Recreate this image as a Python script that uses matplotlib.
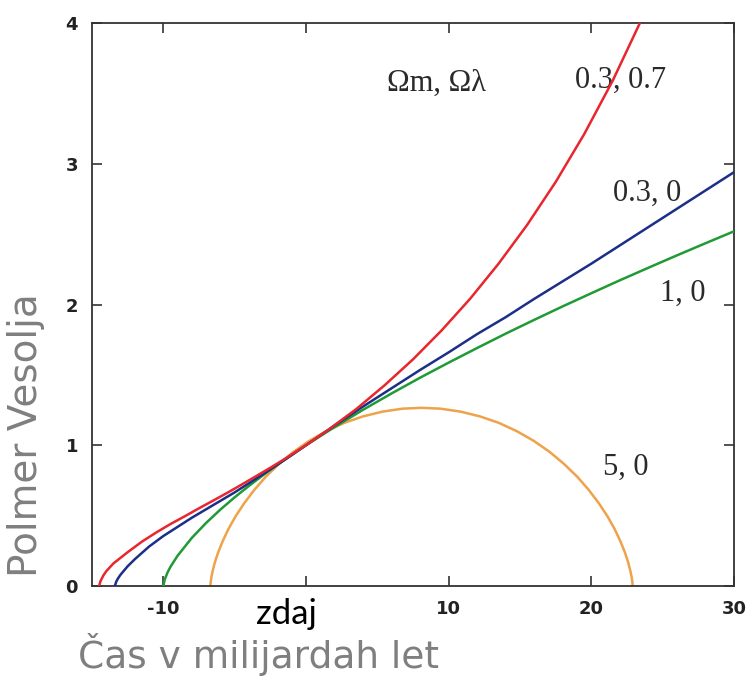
import matplotlib
matplotlib.use('Agg')
import matplotlib.pyplot as plt
from matplotlib.patches import Rectangle

# scale factor of the universe vs. time (Gyr)
red_x = [-14.5, -14.4, -14.2, -14.0, -13.5, -12.5, -11.5, -10.5, -9.5, -8.5, -7.5, -6.5,
         -5.5, -4.5, -3.5, -2.5, -1.5, 0.0, 1.5, 3.5, 5.5, 7.5, 9.5, 11.5, 13.5, 15.5,
         17.5, 19.5, 21.5, 23.5, 24.0]
red_y = [0.0, 0.035, 0.075, 0.105, 0.16, 0.24, 0.315, 0.38, 0.44, 0.495, 0.552, 0.607,
         0.663, 0.721, 0.780, 0.840, 0.902, 1.0, 1.105, 1.255, 1.425, 1.61, 1.815, 2.04,
         2.29, 2.565, 2.87, 3.21, 3.59, 4.02, 4.13]

blue_x = [-13.4, -13.3, -13.2, -13.0, -12.5, -12.0, -11.0, -10.0, -9.0, -8.0, -7.0, -6.0,
          -5.0, -4.0, -3.0, -2.0, -1.0, 0.0, 1.0, 2.0, 4.0, 6.0, 8.0, 10.0, 12.0, 14.0,
          16.0, 18.0, 20.0, 22.0, 24.0, 26.0, 28.0, 30.0]
blue_y = [0.0, 0.03, 0.05, 0.08, 0.14, 0.19, 0.28, 0.355, 0.42, 0.485, 0.545, 0.605,
          0.665, 0.73, 0.795, 0.862, 0.93, 1.0, 1.07, 1.14, 1.275, 1.405, 1.535, 1.66,
          1.79, 1.91, 2.04, 2.165, 2.29, 2.42, 2.55, 2.68, 2.81, 2.94]

green_x = [-10.0, -9.9, -9.7, -9.5, -9.0, -8.0, -7.0, -6.0, -5.0, -4.0, -3.0, -2.0, -1.0,
           0.0, 2.0, 4.0, 6.0, 8.0, 10.0, 12.0, 14.0, 16.0, 18.0, 20.0, 22.0, 24.0,
           26.0, 28.0, 30.0]
green_y = [0.0, 0.046, 0.097, 0.136, 0.215, 0.342, 0.448, 0.543, 0.630, 0.711, 0.788,
           0.862, 0.932, 1.0, 1.129, 1.252, 1.368, 1.480, 1.587, 1.691, 1.793, 1.891,
           1.987, 2.080, 2.172, 2.261, 2.349, 2.435, 2.520]

orange_x = [-6.70, -6.70, -6.63, -6.53, -6.38, -6.15, -5.84, -5.44, -4.94, -4.33, -3.62,
            -2.81, -1.89, -0.88, 0.23, 1.42, 2.68, 4.00, 5.37, 6.77, 8.10, 9.43, 10.83,
            12.20, 13.52, 14.78, 15.97, 17.08, 18.09, 19.01, 19.82, 20.53, 21.14, 21.64,
            22.04, 22.35, 22.58, 22.73, 22.83, 22.88, 22.90]
orange_y = [0.0, 0.007, 0.063, 0.111, 0.170, 0.240, 0.318, 0.404, 0.494, 0.588, 0.683,
            0.777, 0.867, 0.953, 1.031, 1.100, 1.159, 1.205, 1.239, 1.260, 1.266, 1.260,
            1.239, 1.205, 1.159, 1.100, 1.031, 0.953, 0.867, 0.777, 0.683, 0.588, 0.494,
            0.404, 0.318, 0.240, 0.170, 0.111, 0.063, 0.028, 0.0]

x_ticks = [-10, 0, 10, 20, 30]
x_ticklabels = ['-10', '', '10', '20', '30']  # "0" sits under the "zdaj" box
y_ticks = [0, 1, 2, 3, 4]


def main():
    fig = plt.figure(figsize=(7.52, 6.81), dpi=100)
    ax = fig.add_axes([0.1223, 0.1395, 0.8537, 0.8267])

    ax.plot(orange_x, orange_y, color='#eea24a', lw=1.8, zorder=2)
    ax.plot(green_x, green_y, color='#1f9a35', lw=1.8, zorder=3)
    ax.plot(blue_x, blue_y, color='#1c2f88', lw=1.8, zorder=4)
    ax.plot(red_x, red_y, color='#e8262e', lw=1.8, zorder=5)

    ax.set_xlim(-15, 30)
    ax.set_ylim(0, 4)
    ax.set_xticks(x_ticks)
    ax.set_xticklabels(x_ticklabels)
    ax.set_yticks(y_ticks)
    ax.tick_params(direction='in', length=7, width=1.2, color='#333333',
                   top=True, right=True, labelsize=13, labelcolor='#222222', pad=10)
    for lab in ax.get_xticklabels() + ax.get_yticklabels():
        lab.set_fontweight('bold')
    for sp in ax.spines.values():
        sp.set_color('#333333')
        sp.set_linewidth(1.3)

    serif = dict(family='Liberation Serif', fontsize=22, color='#2a2a2a')
    ax.text(5.67, 3.57, '\u03a9m, \u03a9\u03bb', va='center', ha='left', **serif)
    ax.text(18.85, 3.595, '0.3, 0.7', va='center', ha='left', **serif)
    ax.text(21.5, 2.79, '0.3, 0', va='center', ha='left', **serif)
    ax.text(24.8, 2.08, '1, 0', va='center', ha='left', **serif)
    ax.text(20.8, 0.845, '5, 0', va='center', ha='left', **serif)

    # white box with "zdaj" where the 0 label would be
    W, H = 752, 681
    fig.patches.append(Rectangle((237 / W, 1 - 634 / H), 146 / W, 45 / H,
                                 transform=fig.transFigure, facecolor='white',
                                 edgecolor='none', zorder=10))
    fig.text(286 / W, 1 - 614 / H, 'zdaj', family='Lato', fontsize=25,
             color='black', ha='center', va='center', zorder=11)

    fig.text(26 / W, 1 - 435 / H, 'Polmer Vesolja', rotation=90, fontsize=28,
             color='#7f7f7f', ha='center', va='center')
    fig.text(78 / W, 1 - 655 / H, '\u010cas v milijardah let', fontsize=27,
             color='#7f7f7f', ha='left', va='center')

    plt.savefig('out.png', dpi=100)


if __name__ == '__main__':
    main()
